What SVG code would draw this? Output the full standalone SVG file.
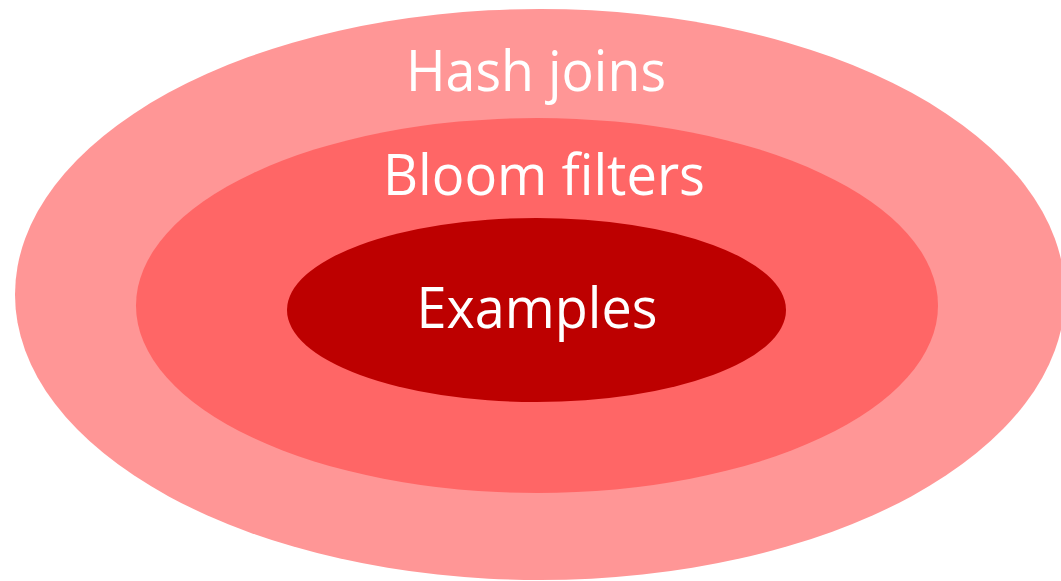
<svg xmlns="http://www.w3.org/2000/svg" width="1061" height="581" viewBox="0 0 1061 581">
<style>
.lbl{font-family:"Open Sans","Liberation Sans",sans-serif;font-size:57px;fill:#ffffff;text-anchor:middle}
</style>
<rect width="1061" height="581" fill="#ffffff"/>
<g id="hash-joins">
<ellipse cx="540" cy="294.5" rx="525" ry="285.5" fill="#FF9696"/>
<text class="lbl" x="536" y="91" textLength="260" lengthAdjust="spacingAndGlyphs">Hash joins</text>
</g>
<g id="bloom-filters">
<ellipse cx="537" cy="305.5" rx="401" ry="187.5" fill="#FF6666"/>
<text class="lbl" x="544" y="195" textLength="322" lengthAdjust="spacingAndGlyphs">Bloom filters</text>
</g>
<g id="examples">
<ellipse cx="536.5" cy="310" rx="249.5" ry="92" fill="#BD0000"/>
<text class="lbl" x="537" y="328" textLength="241" lengthAdjust="spacingAndGlyphs">Examples</text>
</g>
<g id="connectors"/>
</svg>
